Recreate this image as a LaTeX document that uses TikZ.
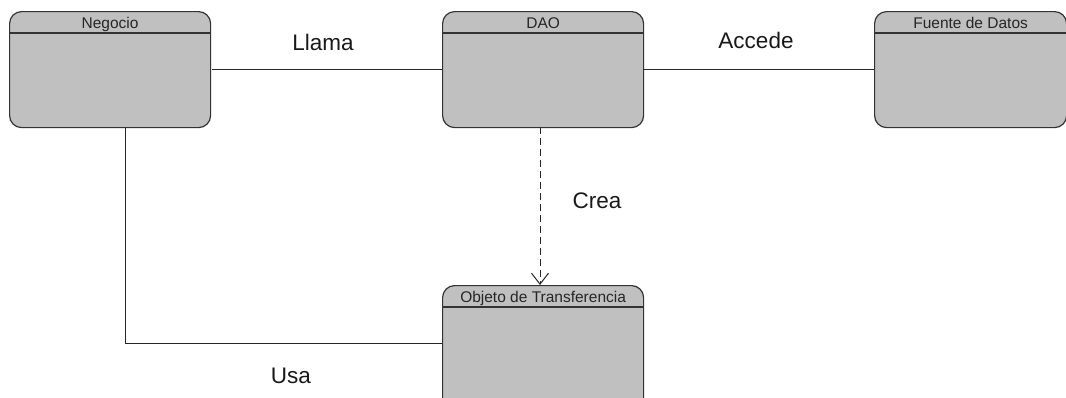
\documentclass[tikz,border=0pt]{standalone}
\usepackage{fontspec}
\setmainfont{Liberation Sans}
\usetikzlibrary{arrows.meta,calc}
\definecolor{boxfill}{HTML}{C0C0C0}
\definecolor{edge}{HTML}{333333}
\tikzset{
  classbox/.style={draw=edge, fill=boxfill, line width=1.2pt, rounded corners=12pt,
    minimum width=201pt, minimum height=116pt, inner sep=0pt, anchor=north west},
  headtext/.style={font=\fontsize{15.5}{18}\selectfont, text=black!85, anchor=base, inner sep=0pt},
  conn/.style={draw=black!85, line width=1pt},
  lbl/.style={font=\fontsize{22.5}{26}\selectfont, text=black!90, anchor=base, inner sep=0pt},
}
\newcommand{\headline}[1]{\draw[draw=edge, line width=1.2pt] ($(#1.north west)+(0,22)$) -- ($(#1.north east)+(0,22)$);}
\begin{document}
\begin{tikzpicture}[x=1pt,y=-1pt]
\useasboundingbox[fill=white] (0,0) rectangle (1066,397);
\clip (0,0) rectangle (1066,397);
% the four boxes
\node[classbox] (neg) at (9,11) {};
\node[classbox] (dao) at (442,11) {};
\node[classbox, minimum width=192pt] (fue) at (874,11) {};
\node[classbox, minimum height=130pt] (obj) at (442,285) {};
\headline{neg}
\headline{dao}
\headline{fue}
\headline{obj}
\node[headtext] (negt) at ($(neg.north)+(0,17)$) {Negocio};
\node[headtext] (daot) at ($(dao.north)+(0,17)$) {DAO};
\node[headtext] (fuet) at ($(fue.north)+(0,17)$) {Fuente de Datos};
\node[headtext] (objt) at ($(obj.north)+(0,17.5)$) {Objeto de Transferencia};
% connectors
\coordinate (negr) at (212,69);
\coordinate (daol) at (442,69);
\coordinate (daor) at (643,69);
\coordinate (fuel) at (874,69);
\draw[conn] (negr) -- (daol);
\draw[conn] (daor) -- (fuel);
\coordinate (daob) at (540,127);
\coordinate (objtop) at (540,285);
\draw[conn, dash pattern=on 7pt off 4pt, -{Straight Barb[length=11pt,width=17pt]}] (daob) -- (objtop);
\coordinate (negb) at (125,127);
\coordinate (objl) at (442,343);
\draw[conn] (negb) |- (objl);
% labels
\node[lbl] (llama) at (323,50) {Llama};
\node[lbl] (accede) at (756,48) {Accede};
\node[lbl] (crea) at (597,208) {Crea};
\node[lbl] (usa) at (291,383) {Usa};
\end{tikzpicture}
\end{document}
